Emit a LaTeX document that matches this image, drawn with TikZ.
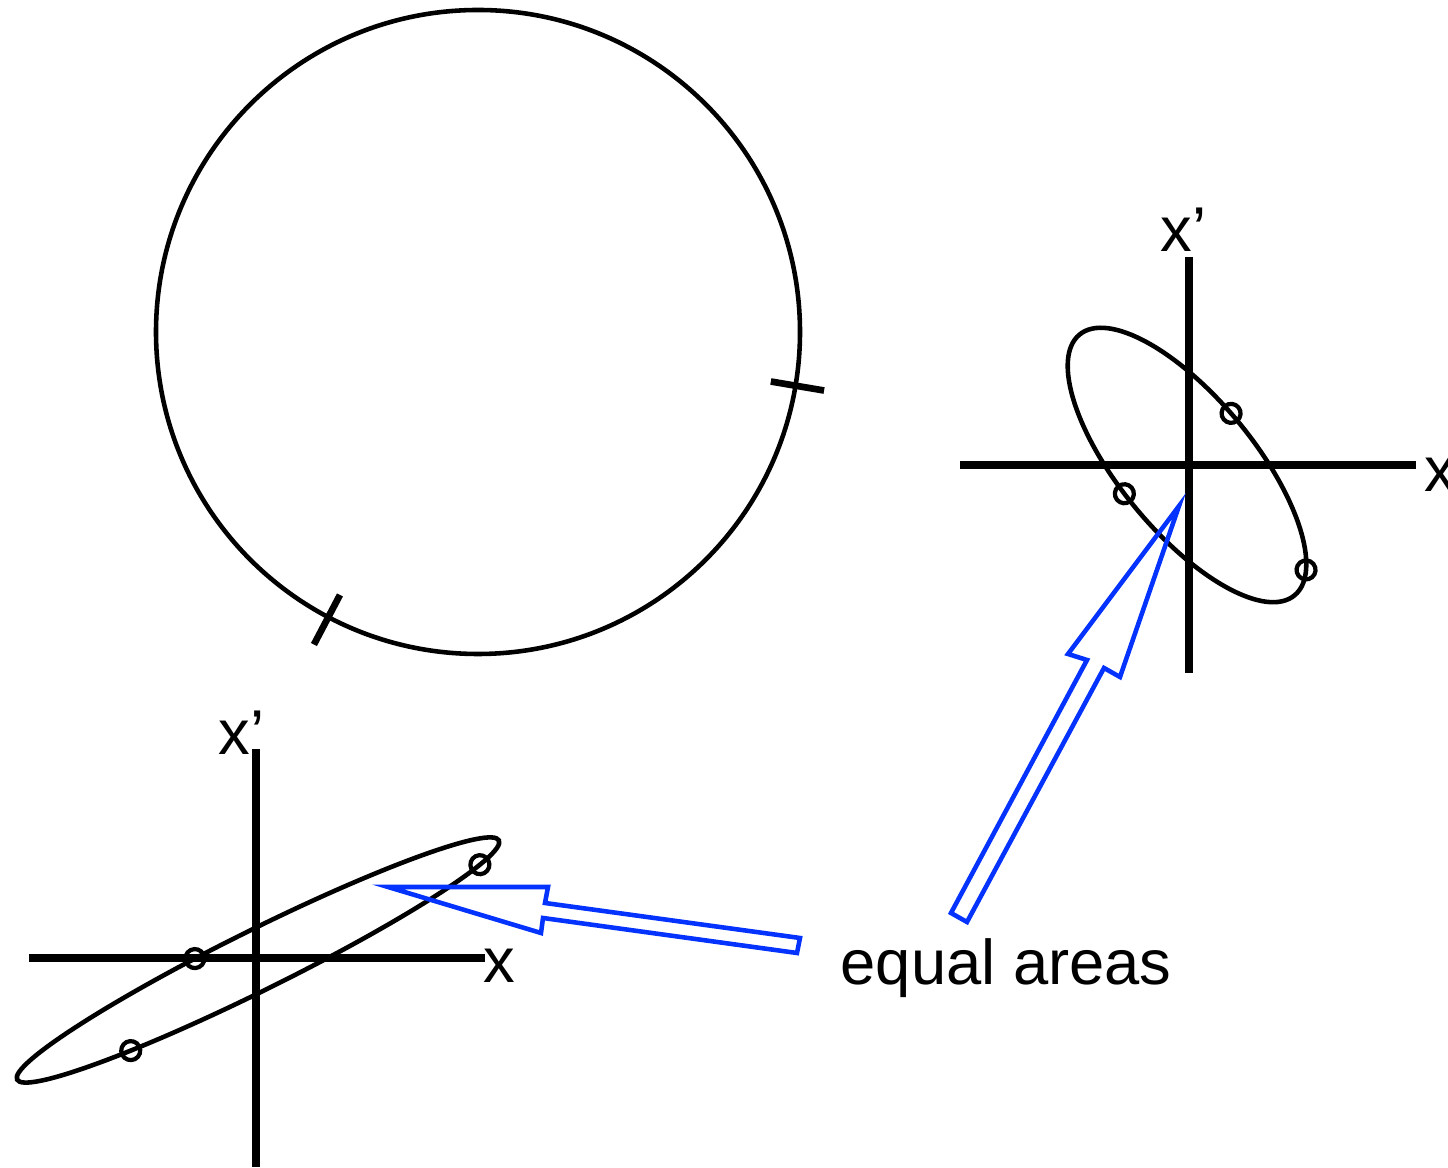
\documentclass[tikz,border=0pt]{standalone}
\usepackage{fontspec}
\setmainfont{Liberation Sans}
\usetikzlibrary{calc}
\definecolor{arrowblue}{RGB}{4,51,255}

\begin{document}
\begin{tikzpicture}[x=0.01cm, y=-0.01cm,
    axisline/.style={line width=2.25pt},
    orbit/.style={line width=1.3pt},
    probe/.style={line width=1.2pt},
    tickline/.style={line width=1.9pt},
    blockarrow/.style={arrowblue, line width=1.3pt, line join=miter},
    lbl/.style={font=\fontsize{18}{21}\selectfont, inner sep=0pt, anchor=base west}]

\useasboundingbox (0,0) rectangle (1448,1168);

% Ring with two ticks
\coordinate (C) at (478,332);
\draw[orbit] (C) circle (322);
\draw[tickline] ($(C)+(9.6:297)$) -- ($(C)+(9.6:351)$);
\draw[tickline] ($(C)+(117.7:297)$) -- ($(C)+(117.7:353)$);

% Right phase space: axes
\coordinate (O1) at (1189,465);
\draw[axisline] (960,465) -- (1416,465);
\draw[axisline] (1189,257) -- (1189,673);
\node[lbl] (xp1) at (1160,252) {x’};
\node[lbl] (x1) at (1424,492) {x};

% Right phase space: ellipse and particles
\begin{scope}[shift={(1187,465)}, rotate=-50.5]
  \draw[orbit] (0,0) ellipse [x radius=169, y radius=67];
  \draw[probe] (-94:169 and 67) circle (9.5);
  \draw[probe] (96:169 and 67) circle (9.5);
  \draw[probe] (-22:169 and 67) circle (9.5);
\end{scope}

% Left phase space: axes
\coordinate (O2) at (256,958);
\draw[axisline] (29,958) -- (485,958);
\draw[axisline] (256,749) -- (256,1167);
\node[lbl] (xp2) at (218,755) {x’};
\node[lbl] (x2) at (483,983) {x};

% Left phase space: ellipse and particles
\begin{scope}[shift={(258,960)}, rotate=26.4]
  \draw[orbit] (0,0) ellipse [x radius=269, y radius=30];
  \draw[probe] (-102:269 and 30) circle (9.5);
  \draw[probe] (-235:269 and 30) circle (9.5);
  \draw[probe] (26.3:269 and 30) circle (9.5);
\end{scope}

% Caption
\node[lbl] (eq) at (840,985) {equal areas};

% Block arrows
\draw[blockarrow] (388,887) -- (548,887) -- (545,903) -- (800,938) -- (797,953)
  -- (543,918) -- (541,933) -- cycle;
\draw[blockarrow] (1179,506) -- (1120,677) -- (1104,668) -- (967,922) -- (951,913)
  -- (1087,660) -- (1068,654) -- cycle;

\end{tikzpicture}
\end{document}
